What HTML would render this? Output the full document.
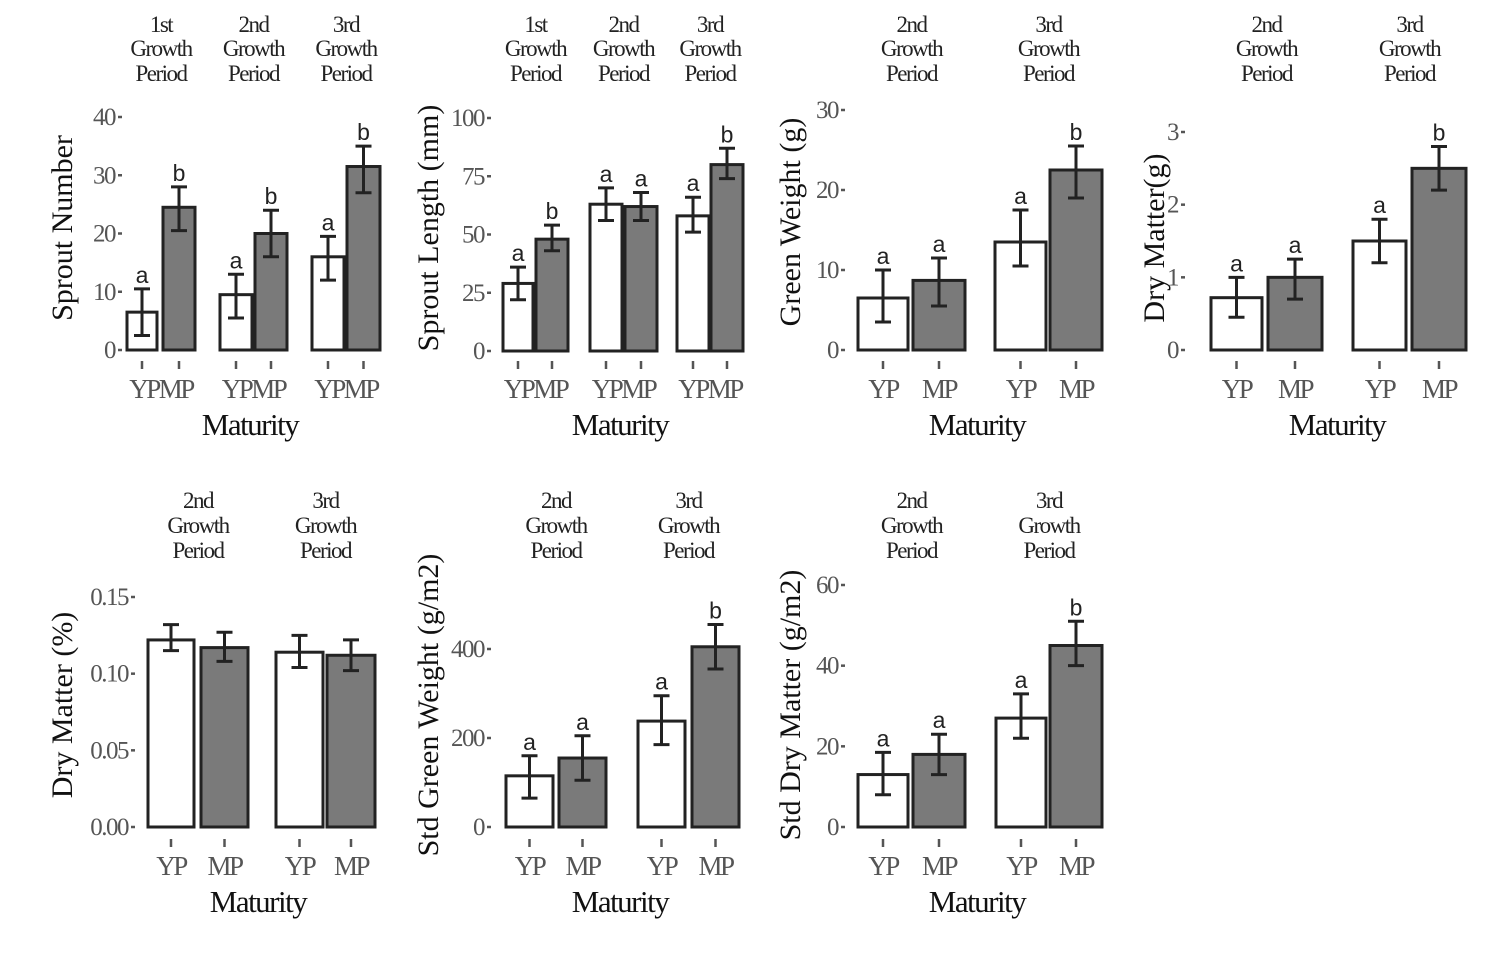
<!DOCTYPE html>
<html><head><meta charset="utf-8"><style>
html,body{margin:0;padding:0;background:#fff;}
svg{display:block;font-family:"Liberation Serif",serif;}
</style></head><body>
<svg id="s" width="1495" height="953" viewBox="0 0 1495 953" xmlns="http://www.w3.org/2000/svg"></svg>
<script>
var P=[
{top:true,y0:350,yv:117,vmax:40,ticks:[0,10,20,30,40],fmt:function(v){return v},tx:115,title:"Sprout Number",ttx:72,tty:228,
 strips:["1st","2nd","3rd"],
 bars:[[127,157,6.5,2.5,10.5,'a',0],[163,195,24.5,20.5,28,'b',1],[220,252,9.5,5.5,13,'a',0],[255,287,20,16,24,'b',1],[312,344,16,12,19.5,'a',0],[347,380,31.5,27,35,'b',1]],mat:250},
{top:true,y0:351,yv:118,vmax:100,ticks:[0,25,50,75,100],fmt:function(v){return v},tx:484,title:"Sprout Length (mm)",ttx:438,tty:228,
 strips:["1st","2nd","3rd"],
 bars:[[503,533,29,22,36,'a',0],[536,568,48,43,54,'b',1],[590,622,63,56,70,'a',0],[625,657,62,56,68,'a',1],[677,709,58,51,66,'a',0],[711,743,80,74,87,'b',1]],mat:620},
{top:true,y0:350,yv:110,vmax:30,ticks:[0,10,20,30],fmt:function(v){return v},tx:838,title:"Green Weight (g)",ttx:800,tty:222,
 strips:["2nd","3rd"],
 bars:[[858,908,6.5,3.5,10,'a',0],[913,965,8.7,5.5,11.5,'a',1],[995,1046,13.5,10.5,17.5,'a',0],[1050,1102,22.5,19,25.5,'b',1]],mat:977},
{top:true,y0:350,yv:132,vmax:3,ticks:[0,1,2,3],fmt:function(v){return v},tx:1178,title:"Dry Matter(g)",ttx:1164,tty:238,
 strips:["2nd","3rd"],
 bars:[[1211,1262,0.72,0.45,1.0,'a',0],[1268,1322,1.0,0.7,1.25,'a',1],[1353,1406,1.5,1.2,1.8,'a',0],[1412,1466,2.5,2.2,2.8,'b',1]],mat:1337},
{top:false,y0:827,yv:597,vmax:0.15,ticks:[0,0.05,0.10,0.15],fmt:function(v){return v.toFixed(2)},tx:128,title:"Dry Matter (%)",ttx:72,tty:705,
 strips:["2nd","3rd"],
 bars:[[148,194,.122,.115,.132,'',0],[201,248,.117,.108,.127,'',1],[276,323,.114,.104,.125,'',0],[327,375,.112,.102,.122,'',1]],mat:258},
{top:false,y0:827,yv:649,vmax:400,ticks:[0,200,400],fmt:function(v){return v},tx:484,title:"Std Green Weight (g/m2)",ttx:438,tty:705,
 strips:["2nd","3rd"],
 bars:[[506,553,115,65,160,'a',0],[559,606,155,105,205,'a',1],[638,685,238,185,295,'a',0],[692,739,405,355,455,'b',1]],mat:620},
{top:false,y0:827,yv:585,vmax:60,ticks:[0,20,40,60],fmt:function(v){return v},tx:838,title:"Std Dry Matter (g/m2)",ttx:800,tty:705,
 strips:["2nd","3rd"],
 bars:[[858,908,13,8,18.5,'a',0],[913,965,18,13,23,'a',1],[996,1046,27,22,33,'a',0],[1050,1102,45,40,51,'b',1]],mat:977}
];
var h='';
function T(x,y,s,o){h+='<text x="'+x+'" y="'+y+'" '+(o||'')+'>'+s+'</text>';}
P.forEach(function(p){
 var sc=(p.y0-p.yv)/p.vmax; function Y(v){return p.y0-v*sc;}
 var tickY=p.top?365:843, labY=p.top?398:875, matY=p.top?435:912, sY=p.top?[32,56,81]:[508,533,558];
 p.ticks.forEach(function(t){var y=Y(t);h+='<line x1="'+(p.tx+3)+'" x2="'+(p.tx+7)+'" y1="'+y+'" y2="'+y+'" stroke="#555" stroke-width="2.5"/>';
  T(p.tx,y+8,p.fmt(t),'text-anchor="end" font-size="25" fill="#555" letter-spacing="-1.5"');});
 var n=p.strips.length;
 for(var f=0;f<n;f++){var a=p.bars[2*f],b=p.bars[2*f+1],cx=(a[0]+b[1])/2;
  [p.strips[f],"Growth","Period"].forEach(function(s,i){T(cx,sY[i],s,'text-anchor="middle" font-size="23" fill="#222" letter-spacing="-1.5"');});
  if(n==3){T(cx,labY,"YPMP",'text-anchor="middle" font-size="27" fill="#555" letter-spacing="-2.5"');}
 }
 p.bars.forEach(function(b){var cx=(b[0]+b[1])/2,yt=Y(b[2]);
  h+='<rect x="'+b[0]+'" y="'+yt+'" width="'+(b[1]-b[0])+'" height="'+(p.y0-yt)+'" fill="'+(b[6]?'#7a7a7a':'#fff')+'" stroke="#222" stroke-width="3"/>';
  var e1=Y(b[3]),e2=Y(b[4]);
  h+='<path d="M'+(cx-8)+' '+e2+'H'+(cx+8)+'M'+cx+' '+e2+'V'+e1+'M'+(cx-8)+' '+e1+'H'+(cx+8)+'" stroke="#222" stroke-width="3" fill="none"/>';
  if(b[5])T(cx,e2-6,b[5],'text-anchor="middle" font-size="23" fill="#222" font-family="Liberation Sans,sans-serif"');
  h+='<line x1="'+cx+'" x2="'+cx+'" y1="'+(tickY-4)+'" y2="'+(tickY+4)+'" stroke="#555" stroke-width="2.5"/>';
  if(n!=3)T(cx,labY,b[6]?'MP':'YP','text-anchor="middle" font-size="27" fill="#555" letter-spacing="-2.5"');
 });
 T(p.mat,matY,"Maturity",'text-anchor="middle" font-size="31" fill="#111" letter-spacing="-1.5"');
 T(p.ttx,p.tty,p.title,'text-anchor="middle" font-size="30" fill="#111" transform="rotate(-90 '+p.ttx+' '+p.tty+')"');
});
document.getElementById('s').innerHTML=h;
</script>
</body></html>
